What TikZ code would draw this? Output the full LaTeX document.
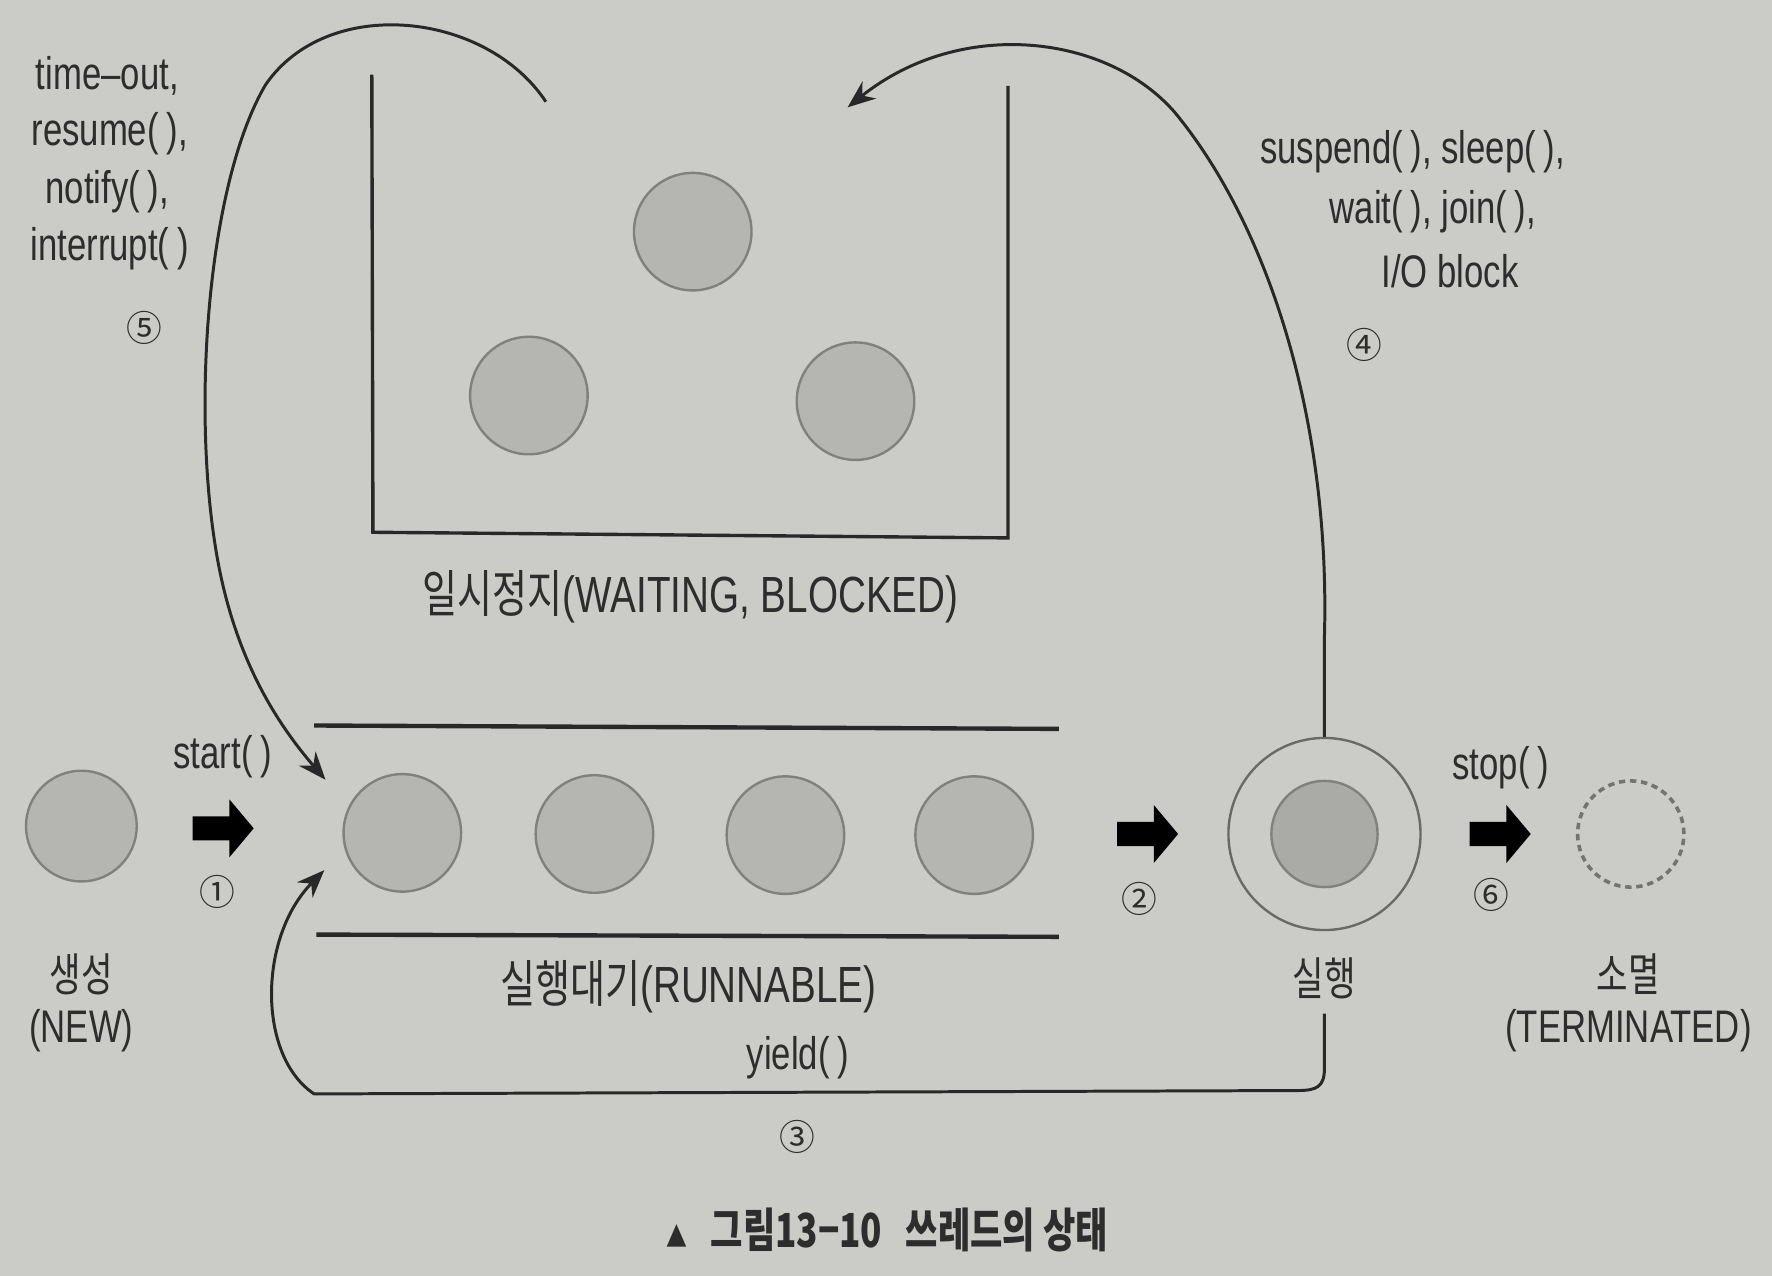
\documentclass[tikz,border=0pt]{standalone}
\usepackage{fontspec}
\setmainfont{Liberation Sans}[FakeStretch=0.76]
\newfontfamily\kr{Noto Sans CJK KR}[FakeStretch=0.75]
\newfontfamily\cnum{Noto Sans CJK KR}
\usetikzlibrary{shapes.arrows,arrows.meta}
\definecolor{bg}{RGB}{203,203,199}
\definecolor{ink}{RGB}{40,40,40}
\definecolor{ballfill}{RGB}{181,181,177}
\definecolor{balledge}{RGB}{128,128,124}
\definecolor{innerfill}{RGB}{170,170,166}
\definecolor{ringc}{RGB}{105,105,102}
\definecolor{dashc}{RGB}{115,115,112}
\definecolor{txt}{RGB}{45,45,45}
\begin{document}
\begin{tikzpicture}[x=0.1mm,y=-0.1mm,
  ball/.style={circle, draw=balledge, fill=ballfill, line width=0.6pt, minimum size=10.4mm, inner sep=0pt},
  lbl/.style={text=txt, font=\fontsize{11.5}{14}\selectfont, inner sep=0pt},
  grp/.style={text=txt, font=\fontsize{12.8}{15}\selectfont, inner sep=0pt},
  num/.style={text=txt, font=\cnum\fontsize{9}{10}\selectfont, inner sep=0pt},
  curve/.style={draw=ink, line width=0.75pt},
  tip/.style={-{Stealth[length=7pt,width=5.5pt]}},
  blockarrow/.style={single arrow, fill=black, draw=none, minimum height=5.4mm, inner xsep=0pt, inner ysep=1mm, single arrow head extend=1.5mm, single arrow tip angle=100},
  boxline/.style={draw=ink, line width=0.85pt},
  bar/.style={draw=ink, line width=1.1pt}
]
\useasboundingbox (0,0) rectangle (1568,1129);
\fill[bg] (0,0) rectangle (1568,1129);

% waiting box
\draw[boxline] (329,66) -- (330,471) -- (892,476) -- (892,76);
\node[ball] (w1) at (613,205) {};
\node[ball] (w2) at (468,350) {};
\node[ball] (w3) at (757,355) {};
\node[grp] (wlbl) at (611,528) {{\kr 일시정지}(WAITING, BLOCKED)};

% runnable queue
\draw[bar] (278,642) -- (937,645);
\draw[bar] (280,827) -- (937,829);
\node[ball] (r1) at (356,737) {};
\node[ball] (r2) at (526,738) {};
\node[ball] (r3) at (695,739) {};
\node[ball] (r4) at (862,739) {};
\node[grp] (rlbl) at (609,873) {{\kr 실행대기}(RUNNABLE)};

% new
\node[ball, minimum size=9.8mm] (new) at (72,731) {};
\node[lbl] (newk) at (72,862) {\kr 생성};
\node[lbl] (newe) at (72,912) {(NEW)};

% running
\node[circle, draw=ringc, line width=0.6pt, minimum size=17mm, inner sep=0pt] (run) at (1172,738) {};
\node[ball, fill=innerfill, minimum size=9.4mm] (runin) at (1172,738) {};
\node[lbl] (runk) at (1172,866) {\kr 실행};

% terminated
\node[circle, draw=dashc, dashed, dash pattern=on 1.6pt off 1.2pt, line width=0.9pt, minimum size=9.4mm, inner sep=0pt] (term) at (1443,738) {};
\node[lbl] (termk) at (1441,862) {\kr 소멸};
\node[lbl] (terme) at (1441,912) {(TERMINATED)};

% block arrows
\node[blockarrow] (ar1) at (193,733) {};
\node[blockarrow] (ar2) at (1011,738) {};
\node[blockarrow] (ar6) at (1323,738) {};
\node[lbl] (start) at (197,670) {start(\,)};
\node[num] (n1) at (192,789) {①};
\node[num] (n2) at (1008,795) {②};
\node[lbl] (stop) at (1328,679) {stop(\,)};
\node[num] (n6) at (1320,792) {⑥};

% labels for 5
\node[lbl] (l5a) at (95,67) {time–out,};
\node[lbl] (l5b) at (97,118) {resume(\,),};
\node[lbl] (l5c) at (95,170) {notify(\,),};
\node[lbl] (l5d) at (97,220) {interrupt(\,)};
\node[num] (n5) at (128,290) {⑤};

% labels for 4
\node[lbl] (l4a) at (1250,134) {suspend(\,), sleep(\,),};
\node[lbl] (l4b) at (1268,187) {wait(\,), join(\,),};
\node[lbl] (l4c) at (1283,240) {I/O block};
\node[num] (n4) at (1207,305) {④};

% labels for 3
\node[lbl] (yield) at (706,936) {yield(\,)};
\node[num] (n3) at (706,1006) {③};

% caption
\node[text=txt, inner sep=0pt, font=\kr\bfseries\fontsize{11.8}{13}\selectfont] (cap) at (785,1088) {{\fontsize{7}{8}\selectfont ▲}\enspace 그림13−10\enspace 쓰레드의 상태};

% curved connectors
\coordinate (c5s) at (483,90);
\coordinate (c5e) at (288,690);
\draw[curve,tip] (c5s) .. controls (430,10) and (290,-5) .. (235,75)
  .. controls (185,160) and (170,350) .. (190,480)
  .. controls (205,580) and (245,640) .. (c5e);

\coordinate (c4e) at (750,95);
\draw[curve,tip] (run.north) -- ++(0,-90)
  .. controls (1177,370) and (1122,200) .. (1040,100)
  .. controls (980,30) and (850,15) .. (c4e);

\coordinate (c3s) at (1172,897);
\coordinate (c3e) at (287,770);
\draw[curve,tip] (c3s) -- (1172,945) .. controls (1172,962) and (1165,965) .. (1148,965)
  -- (278,968) .. controls (228,935) and (228,830) .. (c3e);
\end{tikzpicture}
\end{document}
